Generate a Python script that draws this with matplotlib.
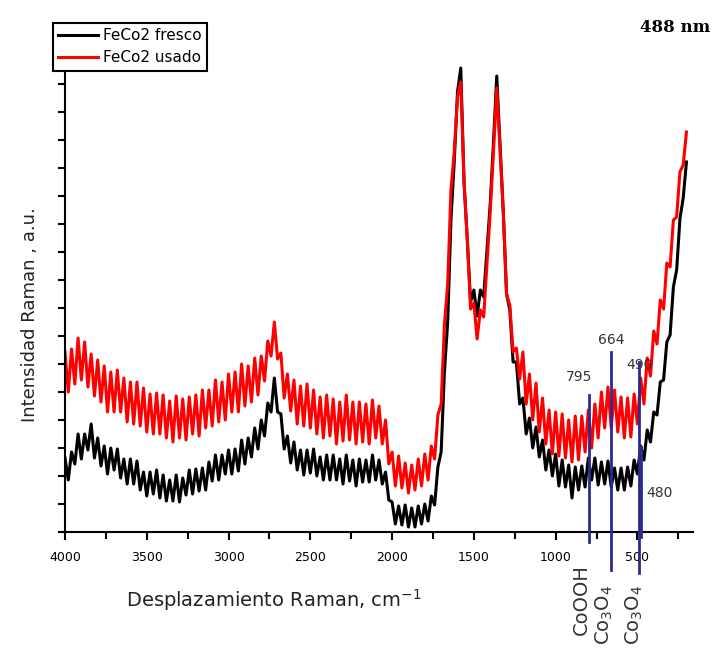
import numpy as np
import matplotlib.pyplot as plt

# Raman shift grid, cm-1 (4000 -> 200, step 20)
shift = np.arange(4000, 199, -20)

# FeCo2 fresco (black), intensity a.u.
fresco = [
    74, 52, 80, 68, 98, 73, 98, 82, 108, 74,
    94, 66, 86, 58, 84, 62, 83, 54, 73, 48,
    73, 48, 71, 42, 60, 36, 60, 38, 62, 34,
    57, 31, 52, 31, 57, 30, 54, 37, 62, 38,
    63, 41, 64, 42, 70, 51, 77, 52, 77, 58,
    82, 58, 83, 61, 92, 68, 94, 75, 104, 83,
    112, 96, 129, 120, 154, 120, 118, 83, 96, 69,
    90, 62, 82, 57, 82, 59, 83, 56, 75, 52,
    77, 52, 77, 52, 73, 48, 77, 51, 72, 46,
    73, 50, 72, 50, 77, 52, 72, 48, 60, 32,
    30, 8, 26, 7, 27, 5, 24, 5, 26, 8,
    28, 11, 36, 27, 65, 80, 160, 210, 312, 370,
    440, 464, 350, 292, 230, 242, 216, 242, 235, 282,
    328, 390, 456, 388, 320, 238, 222, 170, 170, 128,
    134, 98, 114, 84, 105, 75, 92, 62, 82, 56,
    78, 46, 72, 45, 67, 34, 65, 42, 66, 45,
    74, 52, 74, 47, 70, 48, 71, 45, 64, 42,
    64, 42, 65, 46, 72, 58, 86, 72, 102, 90,
    120, 117, 150, 152, 190, 197, 245, 262, 313, 334,
    370,
]

# FeCo2 usado (red), intensity a.u.
usado = [
    180, 140, 183, 148, 194, 152, 190, 145, 178, 136,
    172, 130, 166, 120, 160, 120, 162, 120, 154, 110,
    150, 108, 150, 106, 144, 100, 138, 98, 139, 98,
    137, 94, 131, 90, 136, 94, 133, 92, 135, 98,
    137, 96, 142, 104, 142, 106, 152, 110, 150, 112,
    158, 120, 160, 120, 168, 126, 166, 130, 174, 137,
    176, 151, 191, 176, 210, 173, 179, 134, 158, 121,
    152, 108, 146, 106, 148, 104, 142, 98, 135, 94,
    137, 96, 133, 88, 130, 91, 137, 92, 130, 88,
    130, 90, 128, 88, 132, 94, 126, 88, 112, 68,
    80, 46, 76, 44, 69, 39, 67, 42, 73, 46,
    78, 52, 86, 73, 117, 128, 207, 248, 342, 380,
    435, 450, 350, 292, 223, 229, 193, 222, 215, 267,
    320, 380, 444, 383, 320, 238, 227, 180, 184, 153,
    180, 128, 158, 112, 149, 100, 134, 88, 122, 78,
    120, 76, 118, 74, 112, 70, 116, 72, 116, 80,
    122, 84, 128, 94, 140, 104, 145, 104, 142, 100,
    135, 94, 134, 95, 138, 108, 154, 128, 174, 156,
    201, 188, 232, 223, 269, 265, 312, 315, 360, 367,
    400,
]

# assigned bands
bands = [795, 664, 490, 480]
band_labels = ['795', '664', '490', '480']
phase_labels = ['CoOOH', 'Co$_3$O$_4$', 'Co$_3$O$_4$']

fig = plt.figure(figsize=(7.26, 6.48), dpi=100)
ax = fig.add_axes([65 / 726, 116 / 648, 628 / 726, 504 / 648])

ax.plot(shift, fresco, color='black', lw=2.2, label='FeCo2 fresco')
ax.plot(shift, usado, color='#ff0000', lw=2.2, label='FeCo2 usado')

ax.set_xlim(4000, 160)
ax.set_ylim(0, 504)

# blue marker lines, extending below the axis
blue = '#2b2b8f'
spans = [(-10, 137), (-38, 180), (-41, 170), (-5, 85)]
for b, (lo, hi) in zip(bands, spans):
    ax.plot([b, b], [lo, hi], color=blue, lw=2, clip_on=False, zorder=5)

label_pos = [(855, 155), (659, 192), (490, 167), (365, 39)]
for txt, (x, y) in zip(band_labels, label_pos):
    ax.text(x, y, txt, ha='center', va='center', fontsize=10, color='#333333')

phase_pos = [(845, -68), (700, -83), (520, -83)]
for txt, (x, y) in zip(phase_labels, phase_pos):
    ax.text(x, y, txt, rotation=90, ha='center', va='center', fontsize=14,
            color='#333333', clip_on=False)

ax.spines['top'].set_visible(False)
ax.spines['right'].set_visible(False)
ax.spines['left'].set_linewidth(1.5)
ax.spines['bottom'].set_linewidth(1.5)

ax.set_xticks([4000, 3500, 3000, 2500, 2000, 1500, 1000, 500])
ax.set_xticks(np.arange(3750, 200, -500), minor=True)
ax.set_yticks(np.arange(0, 505, 56))
ax.set_yticks(np.arange(28, 505, 56), minor=True)
ax.set_yticklabels([])
ax.tick_params(axis='x', which='major', length=6, width=1.5, labelsize=9, pad=8)
ax.tick_params(axis='x', which='minor', length=5, width=1.5)
ax.tick_params(axis='y', which='both', length=5, width=1.5)

leg = ax.legend(loc='upper left', bbox_to_anchor=(53 / 726, 1 - 23 / 648),
                bbox_transform=fig.transFigure, borderaxespad=0,
                fontsize=11, fancybox=False, handlelength=2.6,
                borderpad=0.35, labelspacing=0.45, handletextpad=0.3)
leg.get_frame().set_edgecolor('black')
leg.get_frame().set_linewidth(1.5)
leg.get_frame().set_alpha(1)

fig.text(675 / 726, 1 - 28 / 648, '488 nm', ha='center', va='center',
         fontsize=12, fontweight='bold', family='DejaVu Serif')
fig.text(274 / 726, 1 - 600 / 648, 'Desplazamiento Raman, cm$^{-1}$',
         ha='center', va='center', fontsize=14, color='#222222')
fig.text(30 / 726, 1 - 315 / 648, 'Intensidad Raman , a.u.', rotation=90,
         ha='center', va='center', fontsize=13, color='#222222')

fig.savefig('out.png', dpi=100)
